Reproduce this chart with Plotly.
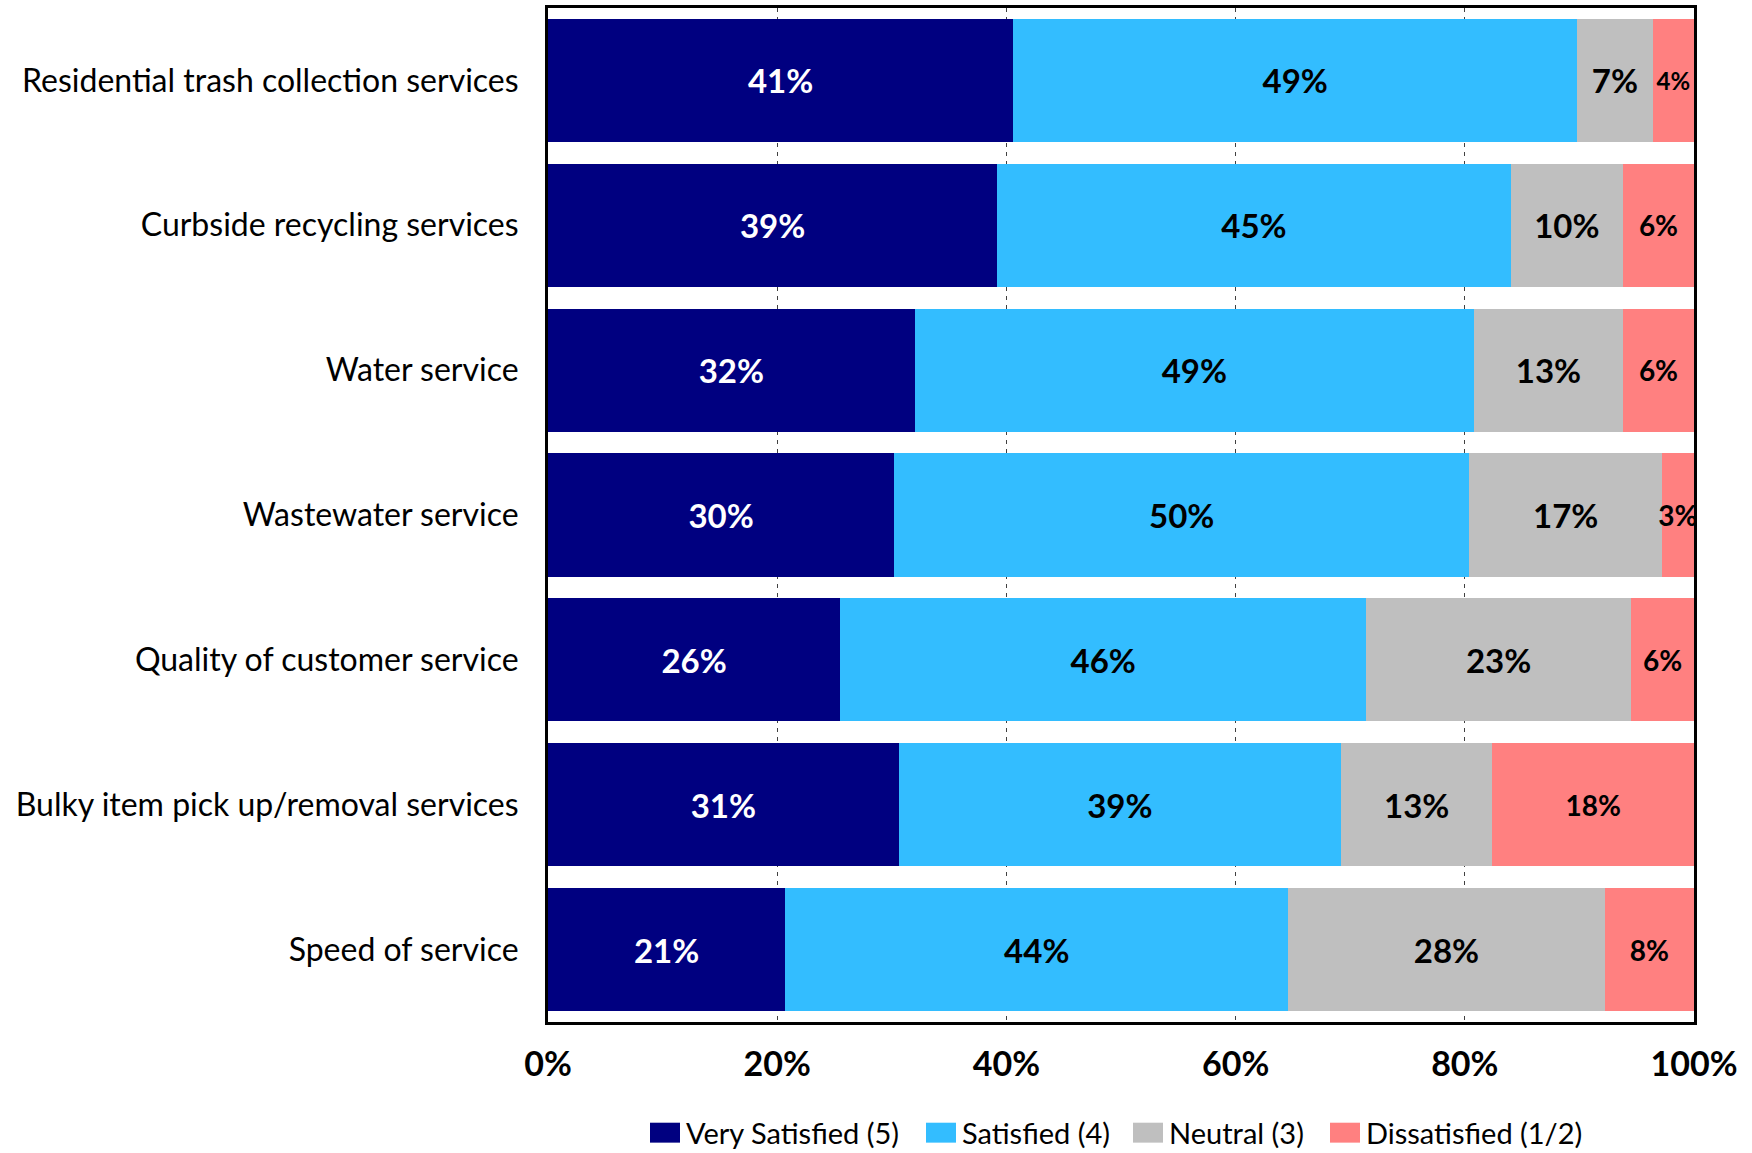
import plotly.graph_objects as go

# Survey results: share of respondents per satisfaction level (percent)
services = [
    "Residential trash collection services",
    "Curbside recycling services",
    "Water service",
    "Wastewater service",
    "Quality of customer service",
    "Bulky item pick up/removal services",
    "Speed of service",
]
very_satisfied = [40.6, 39.2, 32.0, 30.2, 25.5, 30.6, 20.7]
satisfied = [49.2, 44.8, 48.8, 50.2, 45.9, 38.6, 43.9]
neutral = [6.6, 9.8, 13.0, 16.8, 23.1, 13.2, 27.6]
dissatisfied = [3.6, 6.2, 6.2, 2.8, 5.5, 17.6, 7.8]

series_names = ["Very Satisfied (5)", "Satisfied (4)", "Neutral (3)", "Dissatisfied (1/2)"]
series_values = [very_satisfied, satisfied, neutral, dissatisfied]
x_ticks = [0, 20, 40, 60, 80, 100]

# Styling
colors = ["#000080", "#33BDFF", "#BFBFBF", "#FF8080"]
label_colors = ["white", "black", "black", "black"]
label_sizes = [33, 33, 33, [24, 28, 28, 28, 28, 28, 28]]
FONT = "Lato"

W, H = 1752, 1153
L, R, T, B = 548, 58, 5, 131
plot_w = W - L - R
plot_h = H - T - B

fig = go.Figure()
for name, vals, col, tcol, tsize in zip(series_names, series_values, colors, label_colors, label_sizes):
    fig.add_trace(go.Bar(
        y=services,
        x=vals,
        name=name,
        orientation="h",
        marker=dict(color=col, line=dict(width=0)),
        texttemplate="%{x:.0f}%",
        textposition="inside",
        insidetextanchor="middle",
        textangle=0,
        constraintext="none",
        cliponaxis=True,
        textfont=dict(family=FONT, size=tsize, color=tcol, weight="bold"),
        showlegend=False,
        hoverinfo="skip",
    ))

# Legend drawn as coloured swatches with text beside them
def px_to_paper_x(px):
    return (px - L) / plot_w

def px_to_paper_y(py):
    return (T + plot_h - py) / plot_h

legend_left = [650, 926, 1133, 1330]
sw_w, sw_top, sw_bot = 30, 1123, 1143
for name, col, x0 in zip(series_names, colors, legend_left):
    fig.add_shape(
        type="rect", xref="paper", yref="paper",
        x0=px_to_paper_x(x0), x1=px_to_paper_x(x0 + sw_w),
        y0=px_to_paper_y(sw_bot), y1=px_to_paper_y(sw_top),
        fillcolor=col, line=dict(width=0), layer="above",
    )
    fig.add_annotation(
        xref="paper", yref="paper",
        x=px_to_paper_x(x0 + sw_w + 4), y=px_to_paper_y((sw_top + sw_bot) / 2),
        xanchor="left", yanchor="middle",
        text=name, showarrow=False,
        font=dict(family=FONT, size=29, color="black"),
    )

fig.update_layout(
    width=W, height=H, autosize=False,
    margin=dict(l=L, r=R, t=T, b=B, pad=0),
    barmode="stack",
    bargap=0.149,
    plot_bgcolor="white",
    paper_bgcolor="white",
    font=dict(family=FONT, color="black"),
)
fig.update_xaxes(
    range=[0, 100],
    tickvals=x_ticks,
    ticktext=[f"{v}%" for v in x_ticks],
    tickfont=dict(family=FONT, size=34, color="black", weight="bold"),
    ticks="",
    ticklabelstandoff=10,
    showgrid=True,
    gridcolor="#404040",
    gridwidth=1,
    griddash="4px,5px",
    zeroline=False,
    showline=True, linecolor="black", linewidth=3, mirror=True,
)
fig.update_yaxes(
    autorange="reversed",
    tickfont=dict(family=FONT, size=32, color="black"),
    ticks="",
    ticklabelstandoff=20,
    showgrid=False,
    showline=True, linecolor="black", linewidth=3, mirror=True,
)

fig.write_html("out.html")
